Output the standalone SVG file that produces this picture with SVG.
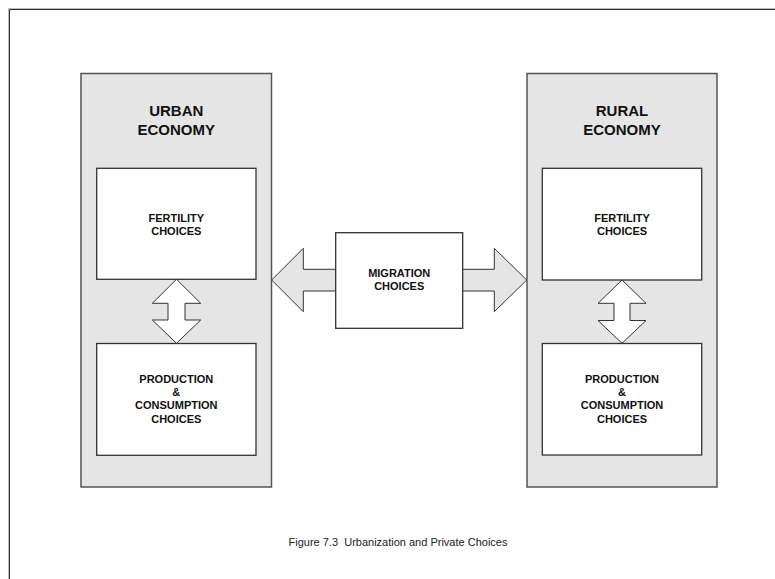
<svg xmlns="http://www.w3.org/2000/svg" width="775" height="579" viewBox="0 0 775 579">
<style>
.panel{fill:#e5e5e5;stroke:#555;stroke-width:1.5}
.box{fill:#fff;stroke:#333;stroke-width:1.3}
.harrow{fill:#e5e5e5;stroke:#333;stroke-width:1}
.varrow{fill:#fff;stroke:#333;stroke-width:1}
.title{font-family:"Liberation Sans",Arial,sans-serif;font-weight:bold;font-size:15px;fill:#111;text-anchor:middle}
.lbl{font-family:"Liberation Sans",Arial,sans-serif;font-weight:bold;font-size:11px;fill:#111;text-anchor:middle}
.cap{font-family:"Liberation Sans",Arial,sans-serif;font-size:11px;fill:#222;text-anchor:middle;white-space:pre}
</style>
<rect width="775" height="579" fill="#fff"/>
<g id="frame">
<path d="M8.5,579 V8.5 H775" fill="none" stroke="#bbb" stroke-width="1"/>
<path d="M9.5,579 V9.5 H775" fill="none" stroke="#333" stroke-width="1"/>
</g>
<g id="urban-economy">
<rect class="panel" x="81" y="73.5" width="190.5" height="413.5"/>
<text class="title" x="176.3" y="116">URBAN</text>
<text class="title" x="176.3" y="135">ECONOMY</text>
</g>
<g id="rural-economy">
<rect class="panel" x="527" y="73.5" width="190" height="413.5"/>
<text class="title" x="622" y="116">RURAL</text>
<text class="title" x="622" y="135">ECONOMY</text>
</g>
<g id="connectors">
<polygon class="harrow" points="271.7,280 303.3,248.3 303.3,269.3 336,269.3 336,291 303.3,291 303.3,311.7"/>
<polygon class="harrow" points="462.5,269.3 494.3,269.3 494.3,248.3 526.7,280 494.3,311.7 494.3,291 462.5,291"/>
<polygon class="varrow" points="176.5,279.3 200.7,303.3 185,303.3 185,320 200.7,320 176.5,343.3 152.3,320 168,320 168,303.3 152.3,303.3"/>
<polygon class="varrow" points="622,280 646,303.3 630,303.3 630,320.5 646,320.5 622,343.3 598,320.5 614,320.5 614,303.3 598,303.3"/>
</g>
<g id="urban-fertility">
<rect class="box" x="96.7" y="168.3" width="159.3" height="111"/>
<text class="lbl" x="176.3" y="221.5">FERTILITY</text>
<text class="lbl" x="176.3" y="234.8">CHOICES</text>
</g>
<g id="urban-production">
<rect class="box" x="96.7" y="343.5" width="159.3" height="111.8"/>
<text class="lbl" x="176.3" y="382.7">PRODUCTION</text>
<text class="lbl" x="176.3" y="396">&amp;</text>
<text class="lbl" x="176.3" y="409.3">CONSUMPTION</text>
<text class="lbl" x="176.3" y="422.7">CHOICES</text>
</g>
<g id="rural-fertility">
<rect class="box" x="542.3" y="168.3" width="159.4" height="111.7"/>
<text class="lbl" x="622" y="221.5">FERTILITY</text>
<text class="lbl" x="622" y="234.8">CHOICES</text>
</g>
<g id="rural-production">
<rect class="box" x="542.3" y="343.5" width="159.4" height="111.5"/>
<text class="lbl" x="622" y="382.7">PRODUCTION</text>
<text class="lbl" x="622" y="396">&amp;</text>
<text class="lbl" x="622" y="409.3">CONSUMPTION</text>
<text class="lbl" x="622" y="422.7">CHOICES</text>
</g>
<g id="migration">
<rect class="box" x="335.7" y="232.7" width="127" height="95.6"/>
<text class="lbl" x="399.2" y="276.7">MIGRATION</text>
<text class="lbl" x="399.2" y="289.5">CHOICES</text>
</g>
<g id="caption">
<text class="cap" x="398" y="546">Figure 7.3  Urbanization and Private Choices</text>
</g>
</svg>
